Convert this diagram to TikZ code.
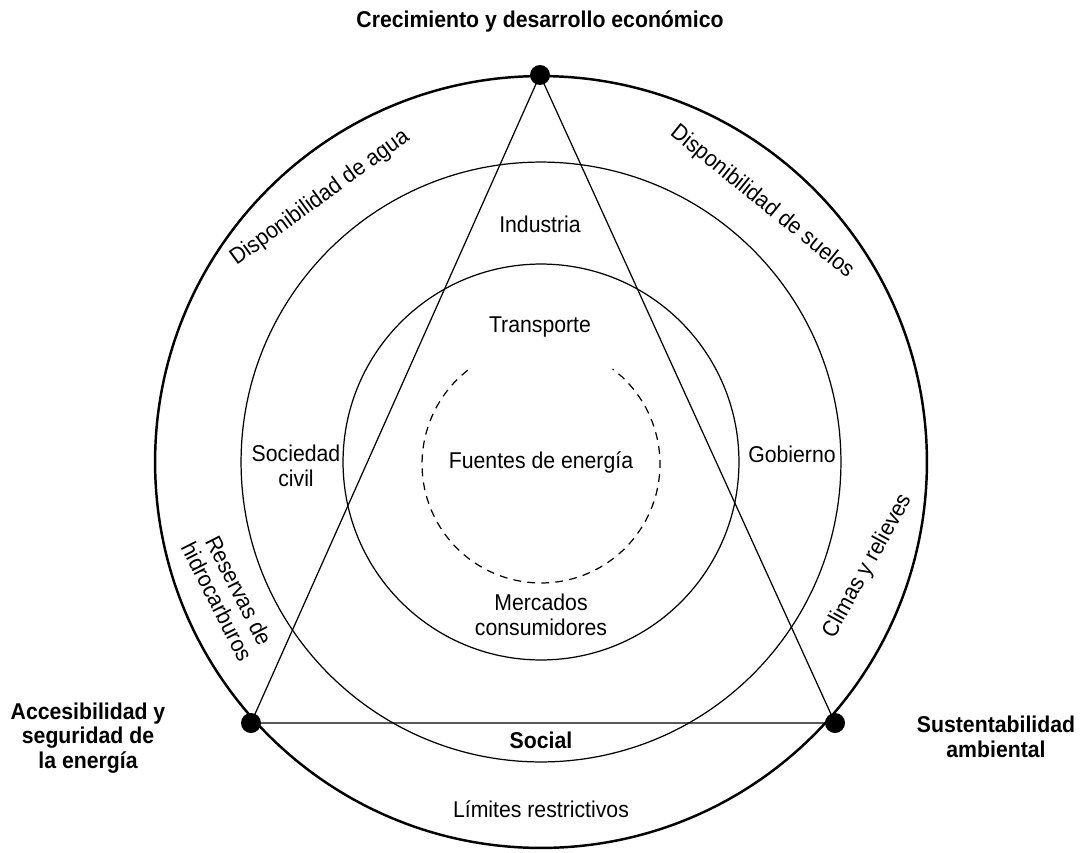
\documentclass[tikz,border=0pt]{standalone}
\usepackage{fontspec}
\setmainfont{Liberation Sans}[FakeStretch=0.93]
\begin{document}
\begin{tikzpicture}[x=0.02cm,y=-0.02cm,
  lbl/.style={font=\fontsize{13}{14}\selectfont, align=center, inner sep=0pt},
  blbl/.style={font=\fontsize{13}{14}\selectfont\bfseries, align=center, inner sep=0pt},
  thinline/.style={line width=0.7pt},
  thickline/.style={line width=1.4pt},
  dot/.style={circle, fill=black, minimum size=0.4cm, inner sep=0pt},
  dashline/.style={line width=0.7pt, dash pattern=on 4.5pt off 3.5pt}]
\useasboundingbox (0,0) rectangle (1081,852);
\coordinate (c) at (541,462);
\coordinate (cd) at (541,464);
% circles
\draw[thickline] (c) circle[radius=7.72cm];
\draw[thinline] (c) circle[radius=6.0cm];
\draw[thinline] (c) circle[radius=3.96cm];
\draw[dashline] ([shift={(128:2.38cm)}]cd) arc[start angle=128, end angle=413, radius=2.38cm];
% vertices
\coordinate (vt) at (540,75);
\coordinate (vl) at (251,723);
\coordinate (vr) at (835,723);
\draw[thinline] (vt) -- (vl) -- (vr) -- cycle;
\node[dot] (dt) at (vt) {};
\node[dot] (dl) at (vl) {};
\node[dot] (dr) at (vr) {};
% outer labels
\node[blbl, anchor=base] (tTitle) at (540,28) {Crecimiento y desarrollo económico};
\node[blbl] (tLeft) at (88,738) {Accesibilidad y\\seguridad de\\la energía};
\node[blbl] (tRight) at (996,737) {Sustentabilidad\\ambiental};
\node[blbl, anchor=base] (tSocial) at (541,748) {Social};
\node[lbl, anchor=base] (tLimites) at (541,817) {Límites restrictivos};
% ring labels
\node[lbl, rotate=36] (tAgua) at (320,198) {Disponibilidad de agua};
\node[lbl, rotate=-39] (tSuelos) at (762,202) {Disponibilidad de suelos};
\node[lbl, rotate=-63] (tReservas) at (228,596) {Reservas de\\hidrocarburos};
\node[lbl, rotate=61] (tClimas) at (868,566) {Climas y relieves};
% inner labels
\node[lbl, anchor=base] (tIndustria) at (540,232) {Industria};
\node[lbl, anchor=base] (tTransporte) at (540,332) {Transporte};
\node[lbl] (tSociedad) at (296,466) {Sociedad\\civil};
\node[lbl, anchor=base] (tGobierno) at (792,462) {Gobierno};
\node[lbl, anchor=base] (tFuentes) at (541,468) {Fuentes de energía};
\node[lbl] (tMercados) at (541,615) {Mercados\\consumidores};
\end{tikzpicture}
\end{document}
